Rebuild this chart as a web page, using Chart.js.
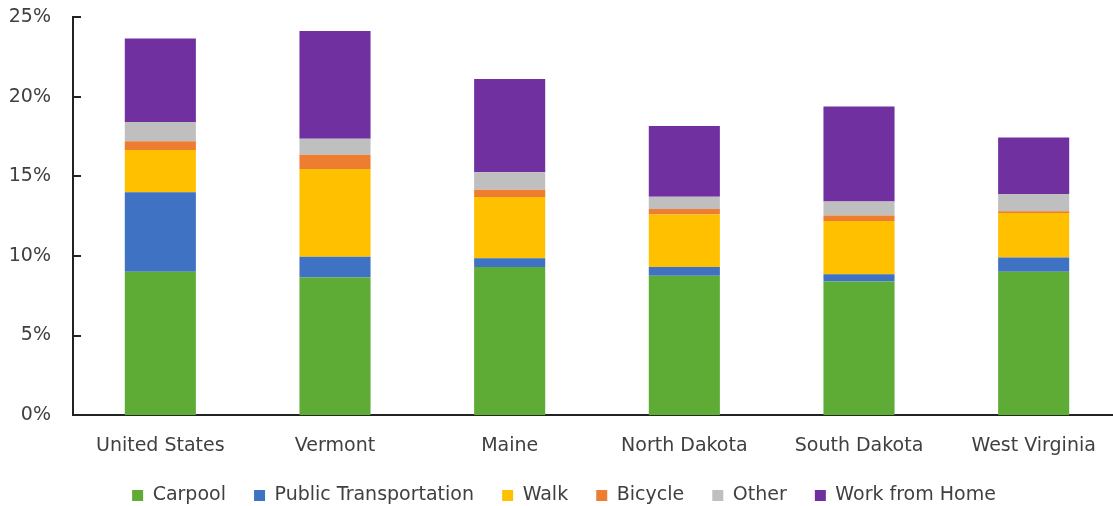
<!DOCTYPE html>
<html>
<head>
<meta charset="utf-8">
<script src="https://cdn.jsdelivr.net/npm/chart.js@4"></script>
<style>
  html, body { margin: 0; padding: 0; background: #fff; overflow: hidden; }
  #wrap { width: 1121px; height: 506px; }
</style>
</head>
<body>
<div id="wrap"><canvas id="modeChart"></canvas></div>
<script>
// Commute mode shares (%), by place
const places = ['United States', 'Vermont', 'Maine', 'North Dakota', 'South Dakota', 'West Virginia'];
const carpool = [9.0, 8.65, 9.3, 8.75, 8.4, 9.0];
const publicTransit = [5.0, 1.3, 0.55, 0.55, 0.45, 0.9];
const walk = [2.65, 5.5, 3.85, 3.3, 3.35, 2.8];
const bicycle = [0.55, 0.9, 0.45, 0.35, 0.33, 0.1];
const other = [1.2, 1.0, 1.1, 0.77, 0.88, 1.08];
const workFromHome = [5.25, 6.77, 5.85, 4.43, 5.97, 3.55];
const yTicks = [0, 5, 10, 15, 20, 25];

const font = "'DejaVu Sans', sans-serif";
const textColor = '#404040';
const legendGap = '   ';

function series(label, data, color) {
  return { label: label, data: data, backgroundColor: color, borderWidth: 0 };
}

// small tick marks drawn on the inside of the y axis
const innerTicks = {
  id: 'innerTicks',
  afterDraw(chart) {
    const y = chart.scales.y;
    const c = chart.ctx;
    c.save();
    c.strokeStyle = '#222';
    c.lineWidth = 2;
    yTicks.forEach(v => {
      const py = Math.round(y.getPixelForValue(v));
      c.beginPath();
      c.moveTo(y.right, py);
      c.lineTo(y.right + 8, py);
      c.stroke();
    });
    c.restore();
  }
};

const ctx = document.getElementById('modeChart').getContext('2d');
new Chart(ctx, {
  type: 'bar',
  data: {
    labels: places,
    datasets: [
      series('Carpool', carpool, '#5EAB35'),
      series('Public Transportation', publicTransit, '#3F72C3'),
      series('Walk', walk, '#FFC000'),
      series('Bicycle', bicycle, '#ED7D31'),
      series('Other', other, '#BFBFBF'),
      series('Work from Home', workFromHome, '#7030A0')
    ]
  },
  options: {
    responsive: true,
    maintainAspectRatio: false,
    animation: false,
    datasets: { bar: { categoryPercentage: 1, barPercentage: 0.407 } },
    layout: { padding: { top: 0, left: 7, right: 0, bottom: -9 } },
    scales: {
      x: {
        stacked: true,
        grid: { display: false, drawTicks: false },
        border: { display: true, color: '#222', width: 2 },
        ticks: { color: textColor, font: { family: font, size: 19 }, padding: 19 }
      },
      y: {
        stacked: true,
        min: 0,
        max: 25,
        afterBuildTicks: function (axis) { axis.ticks = yTicks.map(v => ({ value: v })); },
        afterFit: s => { s.width = 66; s.paddingTop = 17; },
        grid: { display: false, drawTicks: false },
        border: { display: true, color: '#222', width: 2 },
        ticks: {
          color: textColor,
          font: { family: font, size: 19 },
          padding: 22,
          callback: v => v + '%'
        }
      }
    },
    plugins: {
      tooltip: { enabled: false },
      legend: {
        position: 'bottom',
        labels: {
          color: textColor,
          font: { family: font, size: 19 },
          usePointStyle: true,
          pointStyle: 'rect',
          boxWidth: 11,
          boxHeight: 11,
          padding: 10,
          generateLabels: chart => {
            const items = Chart.defaults.plugins.legend.labels.generateLabels(chart);
            items.forEach((it, i) => { if (i < items.length - 1) it.text += legendGap; });
            return items;
          }
        }
      }
    }
  },
  plugins: [innerTicks]
});
</script>
</body>
</html>
